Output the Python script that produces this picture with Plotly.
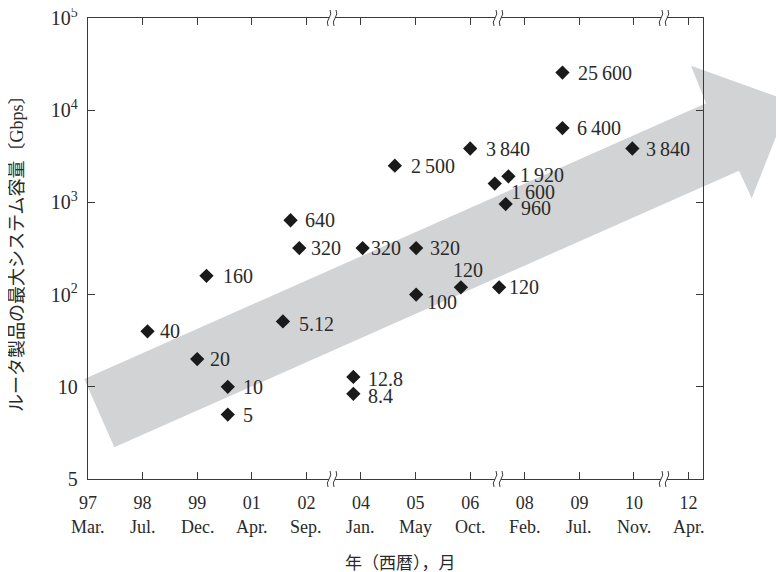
import plotly.graph_objects as go
import math

# ---------------- data ----------------
year_labels = ["97", "98", "99", "01", "02", "04", "05", "06", "08", "09", "10", "12"]
month_labels = ["Mar.", "Jul.", "Dec.", "Apr.", "Sep.", "Jan.", "May", "Oct.", "Feb.", "Jul.", "Nov.", "Apr."]

# release position on the (broken) time axis, in tick-index units
release_pos = [1.09, 2.17, 2.00, 2.56, 2.56, 3.57, 3.71, 3.87, 5.03, 4.86, 4.86,
               5.62, 6.01, 6.01, 6.83, 7.00, 7.45, 7.70, 7.65, 7.53, 8.69, 8.69, 9.97]
capacity_gbps = [40, 160, 20, 10, 5, 51.2, 640, 320, 320, 12.8, 8.4,
                 2500, 320, 100, 120, 3840, 1600, 1920, 960, 120, 25600, 6400, 3840]
point_labels = ["40", "160", "20", "10", "5", "5.12", "640", "320", "320", "12.8", "8.4",
                "2\u2009500", "320", "100", "120", "3\u2009840", "1\u2009600", "1\u2009920", "960", "120",
                "25\u2009600", "6\u2009400", "3\u2009840"]

y_tickvals = [1, 10, 100, 1000, 10000, 100000]
y_ticktext = ["5", "10", "10<sup>2</sup>", "10<sup>3</sup>", "10<sup>4</sup>", "10<sup>5</sup>"]

axis_breaks = [4.47, 7.51, 10.55]

# label placement (pixels relative to marker centre; dy positive = down)
label_dx = [10, 15, 11, 13, 13, 14, 12, 10, 6, 13, 13, 14, 12, 9, 7, 14, 14, 10, 13, 8, 14, 13, 12]
label_dy = [0, 0, 0, 0, 0, 3, 0, 0, 0, 2, 2, 0, 0, 7, -17, 0, 8, -1, 4, 0, 0, 0, 0]
label_anchor = ["left"] * 14 + ["center"] + ["left"] * 8

# ---------------- layout constants ----------------
OFF = 8                       # page body margin of the html page
W, H = 784 - OFF, 572 - OFF
L, T = 88 - OFF, 18 - OFF     # plot area starts at page pixel (88, 18)
PW, PH = 615, 461
R, B = W - L - PW, H - T - PH
SERIF = "Liberation Serif, DejaVu Serif, serif"
JP = "Liberation Serif, Noto Sans CJK JP, serif"
INK = "#2a2a2a"
AX = "#3a3a3a"


def px2paper(px, py):
    """page pixel -> paper coords"""
    fx, fy = px - OFF, py - OFF
    return (fx - L) / PW, (T + PH - fy) / PH


fig = go.Figure()

fig.add_trace(go.Scatter(
    x=release_pos, y=capacity_gbps, mode="markers",
    marker=dict(symbol="diamond", size=11, color="#1a1a1a", line=dict(width=0)),
    hoverinfo="skip", showlegend=False,
))

annotations = []
for xv, yv, txt, dx, dy, anc in zip(release_pos, capacity_gbps, point_labels, label_dx, label_dy, label_anchor):
    annotations.append(dict(
        x=xv, y=math.log10(yv), xref="x", yref="y", text=txt, showarrow=False,
        xanchor=anc, yanchor="middle", xshift=dx, yshift=-dy,
        font=dict(family=SERIF, size=20, color=INK),
    ))

for i, m in enumerate(month_labels):
    annotations.append(dict(
        x=i, y=0, xref="x", yref="paper", text=m, showarrow=False,
        xanchor="center", yanchor="middle", yshift=-48,
        font=dict(family=SERIF, size=18, color=INK),
    ))

annotations.append(dict(
    x=px2paper(400, 0)[0], y=px2paper(0, 563)[1], xref="paper", yref="paper", text="年（西暦），月",
    showarrow=False, xanchor="center", yanchor="middle",
    font=dict(family=JP, size=17, color=INK),
))
annotations.append(dict(
    x=px2paper(17, 0)[0], y=px2paper(0, 250)[1], xref="paper", yref="paper",
    text="ルータ製品の最大システム容量〔Gbps〕", showarrow=False, textangle=-90,
    xanchor="center", yanchor="middle",
    font=dict(family=JP, size=18, color=INK),
))

shapes = []
# big grey trend arrow (decoration), page pixel outline
arrow_px = [(84.3, 379), (706, 103.3), (691, 65.7), (790, 101.4), (751.7, 198.3), (739, 170.7), (114.3, 447.3)]
pts = [px2paper(*p) for p in arrow_px]
path = "M " + " L ".join(f"{a:.5f},{b:.5f}" for a, b in pts) + " Z"
shapes.append(dict(type="path", path=path, xref="paper", yref="paper", layer="below",
                   fillcolor="#d2d3d5", line=dict(width=0)))

# axis break marks on top and bottom axis
for bx in axis_breaks:
    for ya in (0, 1):
        shapes.append(dict(type="path", xref="x", yref="paper", xsizemode="pixel", ysizemode="pixel",
                           xanchor=bx, yanchor=ya, path="M-3,-2.5 L3,-2.5 L3,2.5 L-3,2.5 Z",
                           fillcolor="white", line=dict(width=0), layer="above"))
        for cx in (-3, 3):
            shapes.append(dict(type="path", xref="x", yref="paper", xsizemode="pixel", ysizemode="pixel",
                               xanchor=bx, yanchor=ya,
                               path=f"M{cx+1},8 Q{cx+3},4 {cx},0 Q{cx-3},-4 {cx-1},-8",
                               line=dict(width=1, color=AX), layer="above"))

fig.update_layout(
    width=W, height=H,
    margin=dict(l=L, r=R, t=T, b=B, pad=0, autoexpand=False),
    paper_bgcolor="white", plot_bgcolor="rgba(0,0,0,0)",
    showlegend=False,
    xaxis=dict(range=[0, 11.264], tickmode="array", tickvals=list(range(len(year_labels))), ticktext=year_labels,
               ticks="inside", ticklen=7, tickwidth=1.2, tickcolor=AX,
               showline=True, linecolor=AX, linewidth=1.3, mirror="ticks",
               showgrid=False, zeroline=False, automargin=False, ticklabeloverflow="allow",
               tickfont=dict(family=SERIF, size=18, color=INK), ticklabelstandoff=7),
    yaxis=dict(type="log", range=[0, 5], tickmode="array", tickvals=y_tickvals, ticktext=y_ticktext,
               ticks="inside", ticklen=7, tickwidth=1.2, tickcolor=AX,
               showline=True, linecolor=AX, linewidth=1.3, mirror="ticks",
               showgrid=False, zeroline=False, automargin=False, ticklabeloverflow="allow",
               tickfont=dict(family=SERIF, size=20, color=INK), ticklabelstandoff=5),
    annotations=annotations,
    shapes=shapes,
)

fig.write_html("out.html")
